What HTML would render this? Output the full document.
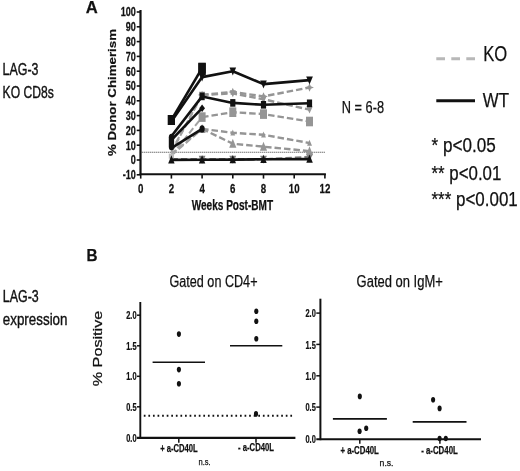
<!DOCTYPE html>
<html><head><meta charset="utf-8"><title>Figure</title>
<style>
html,body{margin:0;padding:0;background:#fff;}
body{width:520px;height:471px;overflow:hidden;font-family:"Liberation Sans",sans-serif;}
svg{display:block;filter:blur(0.4px);}
text{font-family:"Liberation Sans",sans-serif;fill:#111;stroke:#111;stroke-width:0.25px;}
.tb{font-weight:bold;}
</style></head><body>
<svg width="520" height="471" viewBox="0 0 520 471">
<rect width="520" height="471" fill="#fff"/>
<g id="chartA">
<line x1="140.5" y1="10" x2="140.5" y2="175" stroke="#111" stroke-width="2.2"/>
<line x1="139.7" y1="174.2" x2="325.9" y2="174.2" stroke="#111" stroke-width="2"/>
<line x1="136.7" y1="174.8" x2="140.7" y2="174.8" stroke="#111" stroke-width="1.6"/>
<text x="135.89999999999998" y="179.2" class="tb" text-anchor="end" font-size="12.4" transform="translate(135.89999999999998 0) scale(0.73 1) translate(-135.89999999999998 0)">-10</text>
<line x1="136.7" y1="160.0" x2="140.7" y2="160.0" stroke="#111" stroke-width="1.6"/>
<text x="135.89999999999998" y="164.4" class="tb" text-anchor="end" font-size="12.4" transform="translate(135.89999999999998 0) scale(0.73 1) translate(-135.89999999999998 0)">0</text>
<line x1="136.7" y1="145.2" x2="140.7" y2="145.2" stroke="#111" stroke-width="1.6"/>
<text x="135.89999999999998" y="149.6" class="tb" text-anchor="end" font-size="12.4" transform="translate(135.89999999999998 0) scale(0.73 1) translate(-135.89999999999998 0)">10</text>
<line x1="136.7" y1="130.4" x2="140.7" y2="130.4" stroke="#111" stroke-width="1.6"/>
<text x="135.89999999999998" y="134.8" class="tb" text-anchor="end" font-size="12.4" transform="translate(135.89999999999998 0) scale(0.73 1) translate(-135.89999999999998 0)">20</text>
<line x1="136.7" y1="115.6" x2="140.7" y2="115.6" stroke="#111" stroke-width="1.6"/>
<text x="135.89999999999998" y="120.0" class="tb" text-anchor="end" font-size="12.4" transform="translate(135.89999999999998 0) scale(0.73 1) translate(-135.89999999999998 0)">30</text>
<line x1="136.7" y1="100.8" x2="140.7" y2="100.8" stroke="#111" stroke-width="1.6"/>
<text x="135.89999999999998" y="105.2" class="tb" text-anchor="end" font-size="12.4" transform="translate(135.89999999999998 0) scale(0.73 1) translate(-135.89999999999998 0)">40</text>
<line x1="136.7" y1="86.0" x2="140.7" y2="86.0" stroke="#111" stroke-width="1.6"/>
<text x="135.89999999999998" y="90.4" class="tb" text-anchor="end" font-size="12.4" transform="translate(135.89999999999998 0) scale(0.73 1) translate(-135.89999999999998 0)">50</text>
<line x1="136.7" y1="71.2" x2="140.7" y2="71.2" stroke="#111" stroke-width="1.6"/>
<text x="135.89999999999998" y="75.6" class="tb" text-anchor="end" font-size="12.4" transform="translate(135.89999999999998 0) scale(0.73 1) translate(-135.89999999999998 0)">60</text>
<line x1="136.7" y1="56.4" x2="140.7" y2="56.4" stroke="#111" stroke-width="1.6"/>
<text x="135.89999999999998" y="60.8" class="tb" text-anchor="end" font-size="12.4" transform="translate(135.89999999999998 0) scale(0.73 1) translate(-135.89999999999998 0)">70</text>
<line x1="136.7" y1="41.6" x2="140.7" y2="41.6" stroke="#111" stroke-width="1.6"/>
<text x="135.89999999999998" y="46.0" class="tb" text-anchor="end" font-size="12.4" transform="translate(135.89999999999998 0) scale(0.73 1) translate(-135.89999999999998 0)">80</text>
<line x1="136.7" y1="26.8" x2="140.7" y2="26.8" stroke="#111" stroke-width="1.6"/>
<text x="135.89999999999998" y="31.2" class="tb" text-anchor="end" font-size="12.4" transform="translate(135.89999999999998 0) scale(0.73 1) translate(-135.89999999999998 0)">90</text>
<line x1="136.7" y1="12.0" x2="140.7" y2="12.0" stroke="#111" stroke-width="1.6"/>
<text x="135.89999999999998" y="16.4" class="tb" text-anchor="end" font-size="12.4" transform="translate(135.89999999999998 0) scale(0.73 1) translate(-135.89999999999998 0)">100</text>
<line x1="140.7" y1="174" x2="140.7" y2="178.6" stroke="#111" stroke-width="1.6"/>
<text x="140.7" y="192.6" class="tb" text-anchor="middle" font-size="12.8" transform="translate(140.7 0) scale(0.76 1) translate(-140.7 0)">0</text>
<line x1="171.4" y1="174" x2="171.4" y2="178.6" stroke="#111" stroke-width="1.6"/>
<text x="171.4" y="192.6" class="tb" text-anchor="middle" font-size="12.8" transform="translate(171.4 0) scale(0.76 1) translate(-171.4 0)">2</text>
<line x1="202.1" y1="174" x2="202.1" y2="178.6" stroke="#111" stroke-width="1.6"/>
<text x="202.1" y="192.6" class="tb" text-anchor="middle" font-size="12.8" transform="translate(202.1 0) scale(0.76 1) translate(-202.1 0)">4</text>
<line x1="232.8" y1="174" x2="232.8" y2="178.6" stroke="#111" stroke-width="1.6"/>
<text x="232.8" y="192.6" class="tb" text-anchor="middle" font-size="12.8" transform="translate(232.8 0) scale(0.76 1) translate(-232.8 0)">6</text>
<line x1="263.5" y1="174" x2="263.5" y2="178.6" stroke="#111" stroke-width="1.6"/>
<text x="263.5" y="192.6" class="tb" text-anchor="middle" font-size="12.8" transform="translate(263.5 0) scale(0.76 1) translate(-263.5 0)">8</text>
<line x1="294.2" y1="174" x2="294.2" y2="178.6" stroke="#111" stroke-width="1.6"/>
<text x="294.2" y="192.6" class="tb" text-anchor="middle" font-size="12.8" transform="translate(294.2 0) scale(0.76 1) translate(-294.2 0)">10</text>
<line x1="324.9" y1="174" x2="324.9" y2="178.6" stroke="#111" stroke-width="1.6"/>
<text x="324.9" y="192.6" class="tb" text-anchor="middle" font-size="12.8" transform="translate(324.9 0) scale(0.76 1) translate(-324.9 0)">12</text>
<line x1="141.7" y1="152.2" x2="324.9" y2="152.2" stroke="#333" stroke-width="1.1" stroke-dasharray="1 1"/>
<polyline points="171.4,159.3 202.1,159.3 232.8,159.3 263.5,159.3 309.5,157.0" fill="none" stroke="#7d7d7d" stroke-width="2.4" stroke-dasharray="6.5 3" stroke-dashoffset="0" stroke-linejoin="round"/>
<polygon points="202.1,163.7 205.5,155.7 198.7,155.7" fill="#7d7d7d"/>
<polygon points="232.8,163.7 236.2,155.7 229.3,155.7" fill="#7d7d7d"/>
<polygon points="263.5,163.7 266.9,155.7 260.1,155.7" fill="#7d7d7d"/>
<polygon points="309.5,161.4 313.0,153.4 306.1,153.4" fill="#7d7d7d"/>
<polyline points="171.4,155.6 202.1,128.9" fill="none" stroke="#a2a2a2" stroke-width="2.0" stroke-dasharray="6.5 3" stroke-dashoffset="0" stroke-linejoin="round"/>
<polyline points="202.1,128.9 232.8,143.7 263.5,146.7 309.5,151.1" fill="none" stroke="#959595" stroke-width="2.4" stroke-dasharray="6.5 3" stroke-dashoffset="0" stroke-linejoin="round"/>
<polygon points="202.1,124.0 205.7,133.0 198.5,133.0" fill="#959595"/>
<polygon points="232.8,138.8 236.4,147.8 229.2,147.8" fill="#959595"/>
<polygon points="263.5,141.7 267.1,150.7 259.9,150.7" fill="#959595"/>
<polygon points="309.5,146.2 313.1,155.2 306.0,155.2" fill="#959595"/>
<polyline points="171.4,154.1 202.1,128.9" fill="none" stroke="#a2a2a2" stroke-width="2.0" stroke-dasharray="6.5 3" stroke-dashoffset="0" stroke-linejoin="round"/>
<polyline points="202.1,128.9 232.8,132.8 263.5,134.8 309.5,143.0" fill="none" stroke="#959595" stroke-width="2.4" stroke-dasharray="6.5 3" stroke-dashoffset="0" stroke-linejoin="round"/>
<polygon points="202.1,125.6 204.5,131.6 199.7,131.6" fill="#959595"/>
<polygon points="232.8,129.5 235.2,135.5 230.4,135.5" fill="#959595"/>
<polygon points="263.5,131.5 265.9,137.5 261.1,137.5" fill="#959595"/>
<polygon points="309.5,139.7 312.0,145.7 307.1,145.7" fill="#959595"/>
<polyline points="171.4,155.6 202.1,117.1" fill="none" stroke="#a2a2a2" stroke-width="2.0" stroke-dasharray="6.5 3" stroke-dashoffset="0" stroke-linejoin="round"/>
<polyline points="202.1,117.1 232.8,112.2 263.5,114.1 309.5,121.5" fill="none" stroke="#959595" stroke-width="2.4" stroke-dasharray="6.5 3" stroke-dashoffset="0" stroke-linejoin="round"/>
<rect x="198.6" y="112.3" width="7.0" height="9.6" fill="#959595"/>
<rect x="229.3" y="107.4" width="7.0" height="9.6" fill="#959595"/>
<rect x="260.0" y="109.3" width="7.0" height="9.6" fill="#959595"/>
<rect x="306.0" y="116.7" width="7.0" height="9.6" fill="#959595"/>
<polyline points="171.4,151.1 202.1,94.9" fill="none" stroke="#a2a2a2" stroke-width="2.0" stroke-dasharray="6.5 3" stroke-dashoffset="0" stroke-linejoin="round"/>
<polyline points="202.1,94.9 232.8,93.4 263.5,99.3 309.5,109.7" fill="none" stroke="#959595" stroke-width="2.4" stroke-dasharray="6.5 3" stroke-dashoffset="0" stroke-linejoin="round"/>
<polygon points="202.1,98.7 205.2,91.7 199.0,91.7" fill="#959595"/>
<polygon points="232.8,97.2 235.9,90.2 229.7,90.2" fill="#959595"/>
<polygon points="263.5,103.2 266.6,96.2 260.4,96.2" fill="#959595"/>
<polygon points="309.5,113.5 312.7,106.5 306.4,106.5" fill="#959595"/>
<polyline points="171.4,152.6 202.1,94.9" fill="none" stroke="#a2a2a2" stroke-width="2.0" stroke-dasharray="6.5 3" stroke-dashoffset="0" stroke-linejoin="round"/>
<polyline points="202.1,94.9 232.8,91.9 263.5,96.4 309.5,87.5" fill="none" stroke="#959595" stroke-width="2.4" stroke-dasharray="6.5 3" stroke-dashoffset="0" stroke-linejoin="round"/>
<polygon points="202.1,90.7 203.4,93.6 206.4,94.9 203.4,96.1 202.1,99.1 200.8,96.1 197.8,94.9 200.8,93.6" fill="#959595"/>
<polygon points="232.8,87.7 234.1,90.7 237.1,91.9 234.1,93.2 232.8,96.1 231.5,93.2 228.4,91.9 231.5,90.7" fill="#959595"/>
<polygon points="263.5,92.2 264.8,95.1 267.9,96.4 264.8,97.6 263.5,100.6 262.2,97.6 259.1,96.4 262.2,95.1" fill="#959595"/>
<polygon points="309.5,83.3 310.9,86.2 313.9,87.5 310.9,88.7 309.5,91.7 308.2,88.7 305.2,87.5 308.2,86.2" fill="#959595"/>
<rect x="168.8" y="153.6" width="5.2" height="5.2" fill="#bdbdbd"/>
<polyline points="171.4,159.9 202.1,159.7 232.8,159.6 263.5,159.3 309.5,159.1" fill="none" stroke="#111" stroke-width="2.6" stroke-linejoin="round"/>
<polygon points="171.4,155.3 174.6,163.5 168.2,163.5" fill="#111"/>
<polygon points="202.1,155.2 205.3,163.4 198.9,163.4" fill="#111"/>
<polygon points="232.8,155.0 236.0,163.2 229.6,163.2" fill="#111"/>
<polygon points="263.5,154.8 266.7,162.9 260.3,162.9" fill="#111"/>
<polygon points="309.5,154.6 312.8,162.8 306.3,162.8" fill="#111"/>
<polyline points="171.4,148.2 202.1,128.9" fill="none" stroke="#111" stroke-width="2.6" stroke-linejoin="round"/>
<ellipse cx="202.1" cy="128.9" rx="2.6" ry="3.7" fill="#111"/>
<polyline points="171.4,140.0 202.1,108.2" fill="none" stroke="#111" stroke-width="2.6" stroke-linejoin="round"/>
<polygon points="202.1,104.4 205.0,108.2 202.1,112.0 199.2,108.2" fill="#111"/>
<polyline points="171.4,136.3 202.1,96.4 232.8,102.9 263.5,104.8 309.5,103.3" fill="none" stroke="#111" stroke-width="2.6" stroke-linejoin="round"/>
<rect x="199.5" y="92.6" width="5.2" height="7.6" fill="#111"/>
<rect x="230.2" y="99.1" width="5.2" height="7.6" fill="#111"/>
<rect x="260.9" y="101.0" width="5.2" height="7.6" fill="#111"/>
<rect x="306.9" y="99.5" width="5.2" height="7.6" fill="#111"/>
<polyline points="171.4,121.5 202.1,77.1 232.8,71.2 263.5,84.1 309.5,80.1" fill="none" stroke="#111" stroke-width="2.6" stroke-linejoin="round"/>
<polygon points="202.1,81.5 205.4,73.5 198.8,73.5" fill="#111"/>
<polygon points="232.8,75.6 236.1,67.6 229.5,67.6" fill="#111"/>
<polygon points="263.5,88.5 266.8,80.5 260.2,80.5" fill="#111"/>
<polygon points="309.5,84.5 312.9,76.5 306.2,76.5" fill="#111"/>
<polyline points="171.4,120.0 202.1,68.2" fill="none" stroke="#111" stroke-width="2.6" stroke-linejoin="round"/>
<rect x="167.7" y="115.0" width="7.3" height="10.0" fill="#111"/>
<rect x="198.4" y="63.2" width="7.3" height="10.0" fill="#111"/>
<rect x="198.3" y="62.7" width="7.5" height="12.3" fill="#111"/>
<rect x="168.8" y="133.7" width="5.3" height="16.5" rx="2.6" ry="3.5" fill="#111"/>
</g>
<g id="legend">
<line x1="436.3" y1="58.8" x2="475" y2="58.8" stroke="#b8b8b8" stroke-width="3" stroke-dasharray="8.7 6.3"/>
<line x1="436.3" y1="100.8" x2="475" y2="100.8" stroke="#111" stroke-width="3"/>
</g>
<g id="chartB">
<line x1="140.3" y1="302" x2="140.3" y2="438.9" stroke="#111" stroke-width="1.9"/>
<line x1="136.8" y1="437.9" x2="295.4" y2="437.9" stroke="#111" stroke-width="2.1"/>
<text x="136.5" y="441.6" class="tb" text-anchor="end" font-size="10.6" transform="translate(136.5 0) scale(0.7 1) translate(-136.5 0)">0.0</text>
<line x1="137.0" y1="406.8" x2="140.3" y2="406.8" stroke="#111" stroke-width="1.5"/>
<text x="136.5" y="411.0" class="tb" text-anchor="end" font-size="10.6" transform="translate(136.5 0) scale(0.7 1) translate(-136.5 0)">0.5</text>
<line x1="137.0" y1="376.3" x2="140.3" y2="376.3" stroke="#111" stroke-width="1.5"/>
<text x="136.5" y="380.5" class="tb" text-anchor="end" font-size="10.6" transform="translate(136.5 0) scale(0.7 1) translate(-136.5 0)">1.0</text>
<line x1="137.0" y1="345.8" x2="140.3" y2="345.8" stroke="#111" stroke-width="1.5"/>
<text x="136.5" y="349.9" class="tb" text-anchor="end" font-size="10.6" transform="translate(136.5 0) scale(0.7 1) translate(-136.5 0)">1.5</text>
<line x1="137.0" y1="315.2" x2="140.3" y2="315.2" stroke="#111" stroke-width="1.5"/>
<text x="136.5" y="319.4" class="tb" text-anchor="end" font-size="10.6" transform="translate(136.5 0) scale(0.7 1) translate(-136.5 0)">2.0</text>
<line x1="178.8" y1="437" x2="178.8" y2="442.8" stroke="#111" stroke-width="1.5"/>
<line x1="256" y1="437" x2="256" y2="442.8" stroke="#111" stroke-width="1.5"/>
<line x1="143.8" y1="415.8" x2="294.8" y2="415.8" stroke="#111" stroke-width="2" stroke-dasharray="1.7 2.88"/>
<line x1="152.6" y1="362.3" x2="205" y2="362.3" stroke="#111" stroke-width="1.6"/>
<line x1="230" y1="345.7" x2="282.3" y2="345.7" stroke="#111" stroke-width="1.6"/>
<ellipse cx="178.9" cy="334.1" rx="2.05" ry="2.8" fill="#111"/>
<ellipse cx="178.9" cy="369.6" rx="2.05" ry="2.8" fill="#111"/>
<ellipse cx="178.9" cy="383.8" rx="2.05" ry="2.8" fill="#111"/>
<ellipse cx="256.3" cy="311.2" rx="2.05" ry="2.8" fill="#111"/>
<ellipse cx="256.3" cy="321.3" rx="2.05" ry="2.8" fill="#111"/>
<ellipse cx="256.3" cy="338.7" rx="2.05" ry="2.8" fill="#111"/>
<ellipse cx="256.0" cy="413.9" rx="2.05" ry="2.8" fill="#111"/>
<line x1="320.40000000000003" y1="298.7" x2="320.40000000000003" y2="440.2" stroke="#111" stroke-width="2"/>
<line x1="316.3" y1="439.2" x2="481" y2="439.2" stroke="#111" stroke-width="2.1"/>
<text x="315.8" y="442.7" class="tb" text-anchor="end" font-size="10.6" transform="translate(315.8 0) scale(0.7 1) translate(-315.8 0)">0.0</text>
<line x1="316.3" y1="407.1" x2="320.6" y2="407.1" stroke="#111" stroke-width="1.5"/>
<text x="315.8" y="411.3" class="tb" text-anchor="end" font-size="10.6" transform="translate(315.8 0) scale(0.7 1) translate(-315.8 0)">0.5</text>
<line x1="316.3" y1="375.8" x2="320.6" y2="375.8" stroke="#111" stroke-width="1.5"/>
<text x="315.8" y="380.0" class="tb" text-anchor="end" font-size="10.6" transform="translate(315.8 0) scale(0.7 1) translate(-315.8 0)">1.0</text>
<line x1="316.3" y1="344.4" x2="320.6" y2="344.4" stroke="#111" stroke-width="1.5"/>
<text x="315.8" y="348.6" class="tb" text-anchor="end" font-size="10.6" transform="translate(315.8 0) scale(0.7 1) translate(-315.8 0)">1.5</text>
<line x1="316.3" y1="313.1" x2="320.6" y2="313.1" stroke="#111" stroke-width="1.5"/>
<text x="315.8" y="317.3" class="tb" text-anchor="end" font-size="10.6" transform="translate(315.8 0) scale(0.7 1) translate(-315.8 0)">2.0</text>
<line x1="359.8" y1="439" x2="359.8" y2="443.7" stroke="#111" stroke-width="1.5"/>
<line x1="439.9" y1="439" x2="439.9" y2="443.7" stroke="#111" stroke-width="1.5"/>
<line x1="332.9" y1="418.9" x2="386.9" y2="418.9" stroke="#111" stroke-width="1.6"/>
<line x1="412.7" y1="421.9" x2="466.5" y2="421.9" stroke="#111" stroke-width="1.6"/>
<ellipse cx="359.8" cy="396.4" rx="2.05" ry="2.8" fill="#111"/>
<ellipse cx="359.6" cy="431.3" rx="2.05" ry="2.8" fill="#111"/>
<ellipse cx="366.2" cy="428.3" rx="2.05" ry="2.8" fill="#111"/>
<ellipse cx="433.1" cy="399.8" rx="2.05" ry="2.8" fill="#111"/>
<ellipse cx="439.6" cy="408.4" rx="2.05" ry="2.8" fill="#111"/>
<ellipse cx="439.6" cy="438.5" rx="2.05" ry="2.8" fill="#111"/>
<ellipse cx="445.8" cy="438.5" rx="2.05" ry="2.8" fill="#111"/>
</g>
<g id="texts">
<text x="85.8" y="13.2" class="tb" font-size="17.3" textLength="12" lengthAdjust="spacingAndGlyphs" text-anchor="start" >A</text>
<text x="86.5" y="260.6" class="tb" font-size="16.6" textLength="11" lengthAdjust="spacingAndGlyphs" text-anchor="start" >B</text>
<text x="2.6" y="74.6" class="t" font-size="17" textLength="35.9" lengthAdjust="spacingAndGlyphs" text-anchor="start" style="stroke-width:0.4px">LAG-3</text>
<text x="2.6" y="97.6" class="t" font-size="17" textLength="51.2" lengthAdjust="spacingAndGlyphs" text-anchor="start" style="stroke-width:0.4px">KO CD8s</text>
<text x="2.8" y="301.9" class="t" font-size="17" textLength="35.9" lengthAdjust="spacingAndGlyphs" text-anchor="start" style="stroke-width:0.4px">LAG-3</text>
<text x="2.8" y="324.5" class="t" font-size="17" textLength="64.7" lengthAdjust="spacingAndGlyphs" text-anchor="start" style="stroke-width:0.4px">expression</text>
<text x="341.8" y="112.8" class="t" font-size="16.8" textLength="42.3" lengthAdjust="spacingAndGlyphs" text-anchor="start" >N = 6-8</text>
<text x="483.2" y="60.8" class="t" font-size="21.3" textLength="24" lengthAdjust="spacingAndGlyphs" text-anchor="start" >KO</text>
<text x="482.8" y="106.5" class="t" font-size="20.8" textLength="26.2" lengthAdjust="spacingAndGlyphs" text-anchor="start" >WT</text>
<text x="431.5" y="152.3" class="t" font-size="19.6" textLength="64.2" lengthAdjust="spacingAndGlyphs" text-anchor="start" >* p&lt;0.05</text>
<text x="431.5" y="179.6" class="t" font-size="19.6" textLength="69.8" lengthAdjust="spacingAndGlyphs" text-anchor="start" >** p&lt;0.01</text>
<text x="431.5" y="206.2" class="t" font-size="19.6" textLength="86.3" lengthAdjust="spacingAndGlyphs" text-anchor="start" >*** p&lt;0.001</text>
<text x="169.5" y="287.3" class="t" font-size="16" textLength="88" lengthAdjust="spacingAndGlyphs" text-anchor="start" >Gated on CD4+</text>
<text x="356.6" y="287.0" class="t" font-size="16" textLength="86.2" lengthAdjust="spacingAndGlyphs" text-anchor="start" >Gated on IgM+</text>
<text x="232.4" y="210" class="tb" font-size="14.3" textLength="81.5" lengthAdjust="spacingAndGlyphs" text-anchor="middle" >Weeks Post-BMT</text>
<text class="tb" font-size="11.8" textLength="127" lengthAdjust="spacingAndGlyphs" text-anchor="middle" transform="translate(116.4 92.5) rotate(-90)" style="stroke-width:0.2px">% Donor Chimerism</text>
<text class="t" font-size="13.6" textLength="75.7" lengthAdjust="spacingAndGlyphs" text-anchor="middle" transform="translate(101.7 348.5) rotate(-90)">% Positive</text>
<text x="160.2" y="451.5" class="tb" font-size="10.8" textLength="37.6" lengthAdjust="spacingAndGlyphs" text-anchor="start" >+ a-CD40L</text>
<text x="238" y="451.3" class="tb" font-size="10.8" textLength="36" lengthAdjust="spacingAndGlyphs" text-anchor="start" >- a-CD40L</text>
<text x="198.6" y="464.8" class="t" font-size="9" textLength="12.1" lengthAdjust="spacingAndGlyphs" text-anchor="start" >n.s.</text>
<text x="340.4" y="454" class="tb" font-size="10.8" textLength="38.5" lengthAdjust="spacingAndGlyphs" text-anchor="start" >+ a-CD40L</text>
<text x="421.2" y="454" class="tb" font-size="10.8" textLength="36.6" lengthAdjust="spacingAndGlyphs" text-anchor="start" >- a-CD40L</text>
<text x="379.6" y="466.3" class="t" font-size="9" textLength="13.9" lengthAdjust="spacingAndGlyphs" text-anchor="start" >n.s.</text>
</g>
</svg>
</body></html>
